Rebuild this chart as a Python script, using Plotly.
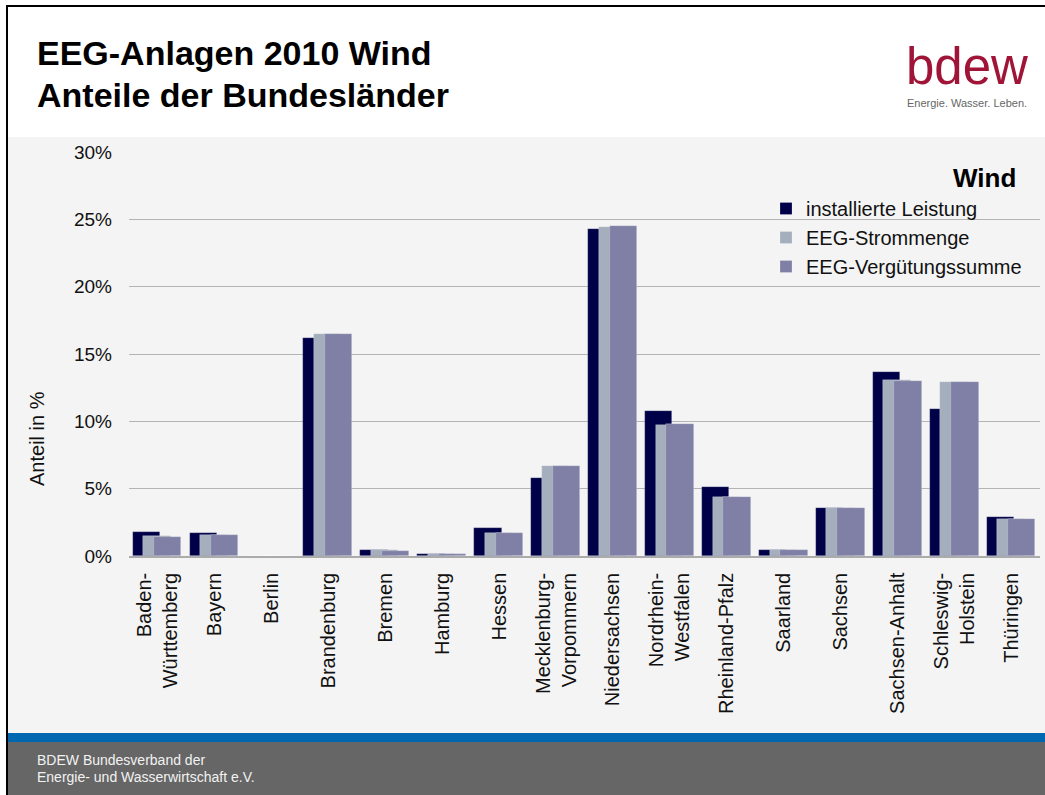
import plotly.graph_objects as go

# Anteile der Bundesländer an Wind (EEG 2010), in Prozent
laender = ["Baden-<br>Württemberg", "Bayern", "Berlin", "Brandenburg", "Bremen",
           "Hamburg", "Hessen", "Mecklenburg-<br>Vorpommern", "Niedersachsen",
           "Nordrhein-<br>Westfalen", "Rheinland-Pfalz", "Saarland", "Sachsen",
           "Sachsen-Anhalt", "Schleswig-<br>Holstein", "Thüringen"]

installierte_leistung = [1.81, 1.69, 0.02, 16.18, 0.45, 0.17, 2.11, 5.80, 24.30,
                         10.75, 5.13, 0.45, 3.57, 13.63, 10.93, 2.93]
eeg_strommenge = [1.46, 1.59, 0.01, 16.52, 0.47, 0.15, 1.71, 6.69, 24.45,
                  9.76, 4.36, 0.47, 3.57, 13.06, 12.89, 2.75]
eeg_verguetung = [1.43, 1.58, 0.01, 16.47, 0.40, 0.13, 1.73, 6.69, 24.50,
                  9.81, 4.36, 0.47, 3.60, 12.98, 12.89, 2.73]

y_ticks = [0, 5, 10, 15, 20, 25, 30]
y_ticktext = ["0%", "5%", "10%", "15%", "20%", "25%", "30%"]

FONT = "Liberation Sans, Arial, sans-serif"
W, H = 1045, 795
ML, MR, MT, MB = 129, 5, 152, 239


def px_x(x):
    """Pixel x -> paper x."""
    return (x - ML) / (W - ML - MR)


def px_y(y):
    """Pixel y -> paper y."""
    return (H - MB - y) / (H - MT - MB)


fig = go.Figure()
series = [
    ("installierte Leistung", installierte_leistung, "#000048", -0.437),
    ("EEG-Strommenge", eeg_strommenge, "#A4AEBD", -0.25),
    ("EEG-Vergütungssumme", eeg_verguetung, "#8080A6", -0.06),
]
for name, vals, color, off in series:
    fig.add_trace(go.Bar(x=laender, y=vals, name=name, width=0.48, offset=off,
                         marker=dict(color=color, line=dict(color="rgba(255,255,255,0.35)", width=0.6))))

# slide background: grey panel, blue stripe, footer, black frame
shapes = []
def rect(x0, y0, x1, y1, color, layer="below"):
    shapes.append(dict(type="rect", xref="paper", yref="paper",
                       x0=px_x(x0), x1=px_x(x1), y0=px_y(y1), y1=px_y(y0),
                       fillcolor=color, line=dict(width=0), layer=layer))

rect(8, 137, W, 733, "#F4F4F4")
rect(8, 733, W, 742, "#0068B0")
rect(8, 742, W, H, "#666666")
rect(6, 5, 8, H, "#000000")
rect(6, 5, W, 7, "#000000")
# clean right-hand edge strip (outside the plot area)
rect(1041, 7, W, 137, "#FFFFFF", layer="above")
rect(1041, 137, W, 733, "#F4F4F4", layer="above")

annotations = [
    dict(text="<b>EEG-Anlagen 2010 Wind</b>", x=px_x(35), y=px_y(53), font=dict(size=34, color="#000000"),
         xanchor="left", yanchor="middle"),
    dict(text="<b>Anteile der Bundesländer</b>", x=px_x(35), y=px_y(95), font=dict(size=34, color="#000000"),
         xanchor="left", yanchor="middle"),
    dict(text="bdew", x=px_x(1030), y=px_y(66), font=dict(size=51, color="#A01437"),
         xanchor="right", yanchor="middle"),
    dict(text="Energie. Wasser. Leben.", x=px_x(1029), y=px_y(103), font=dict(size=11, color="#666666"),
         xanchor="right", yanchor="middle"),
    dict(text="BDEW Bundesverband der", x=px_x(35), y=px_y(760), font=dict(size=14, color="#F2F2F2"),
         xanchor="left", yanchor="middle"),
    dict(text="Energie- und Wasserwirtschaft e.V.", x=px_x(35), y=px_y(777), font=dict(size=14, color="#F2F2F2"),
         xanchor="left", yanchor="middle"),
    dict(text="<b>Wind</b>", x=px_x(1018), y=px_y(178), font=dict(size=26, color="#000000"),
         xanchor="right", yanchor="middle"),
    dict(text="Anteil in %", x=px_x(37), y=px_y(439), textangle=-90, font=dict(size=20, color="#111111"),
         xanchor="center", yanchor="middle"),
]
for a in annotations:
    a.update(xref="paper", yref="paper", showarrow=False)

fig.update_layout(
    width=W, height=H,
    margin=dict(l=ML, r=MR, t=MT, b=MB),
    paper_bgcolor="#FFFFFF",
    plot_bgcolor="rgba(0,0,0,0)",
    font=dict(family=FONT, color="#111111"),
    barmode="overlay",
    bargap=0,
    showlegend=True,
    legend=dict(x=px_x(766), y=px_y(189), xanchor="left", yanchor="top",
                font=dict(size=20, color="#111111"), bgcolor="rgba(0,0,0,0)",
                tracegroupgap=0, itemclick=False),
    shapes=shapes,
    annotations=annotations,
)
fig.update_xaxes(tickangle=-90, tickfont=dict(size=20, color="#111111"), ticklabelstandoff=7,
                 showline=True, linecolor="#ABABAB", linewidth=1.5, showgrid=False, ticks="")
fig.update_yaxes(range=[0, 30], tickvals=y_ticks, ticktext=y_ticktext, tickfont=dict(size=19, color="#111111"),
                 showgrid=True, gridcolor="#B4B4B4", gridwidth=1.2, zeroline=False, ticklabelstandoff=16)

# drop the default page margin so the slide fills the window exactly
page_js = ("document.body.style.margin='0';"
           "document.body.style.overflow='hidden';"
           "document.documentElement.style.overflow='hidden';")
fig.write_html("out.html", config={"displayModeBar": False}, post_script=page_js)
